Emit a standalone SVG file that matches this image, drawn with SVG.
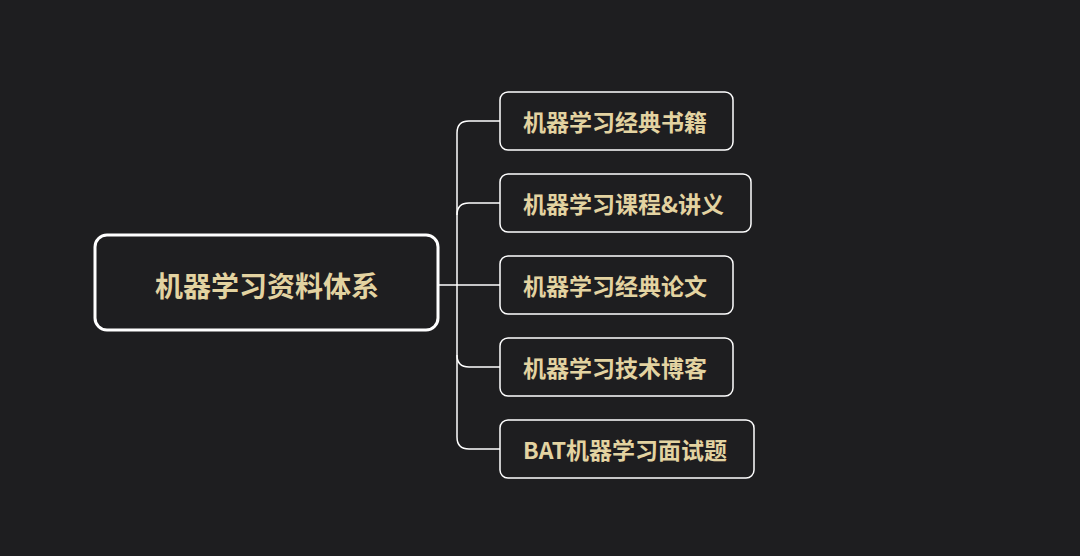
<svg xmlns="http://www.w3.org/2000/svg" width="1080" height="556" viewBox="0 0 1080 556">
<style>
.root{fill:#1e1e20;stroke:#ffffff;stroke-width:3}
.child{fill:#1e1e20;stroke:#ffffff;stroke-width:1.5}
.t{fill:#e3d3a1;font-family:"Noto Sans CJK SC","Noto Sans",sans-serif;font-weight:bold;dominant-baseline:central}
.rt{font-size:28px;text-anchor:middle}
.ct{font-size:23px}
.c{fill:none;stroke:#ffffff;stroke-width:1.5}
</style>
<rect width="1080" height="556" fill="#1e1e20"/>
<g id="connectors">
<path class="c" d="M438 285 H457"/>
<path class="c" d="M500 121 H469 Q457 121 457 133 V437 Q457 449 469 449 H500"/>
<path class="c" d="M500 203 H469 Q457 203 457 215"/>
<path class="c" d="M457 285 H500"/>
<path class="c" d="M457 355 Q457 367 469 367 H500"/>
</g>
<g id="root">
<rect class="root" x="95" y="235" width="343" height="95" rx="12"/>
<text class="t rt" x="267" y="285">机器学习资料体系</text>
</g>
<g id="n1">
<rect class="child" x="500" y="92" width="233" height="58" rx="8"/>
<text class="t ct" x="523" y="121">机器学习经典书籍</text>
</g>
<g id="n2">
<rect class="child" x="500" y="174" width="251" height="58" rx="8"/>
<text class="t ct" x="523" y="203">机器学习课程&amp;讲义</text>
</g>
<g id="n3">
<rect class="child" x="500" y="256" width="233" height="58" rx="8"/>
<text class="t ct" x="523" y="285">机器学习经典论文</text>
</g>
<g id="n4">
<rect class="child" x="500" y="338" width="233" height="58" rx="8"/>
<text class="t ct" x="523" y="367">机器学习技术博客</text>
</g>
<g id="n5">
<rect class="child" x="500" y="420" width="254" height="58" rx="8"/>
<text class="t ct" x="523" y="449">BAT机器学习面试题</text>
</g>
</svg>
